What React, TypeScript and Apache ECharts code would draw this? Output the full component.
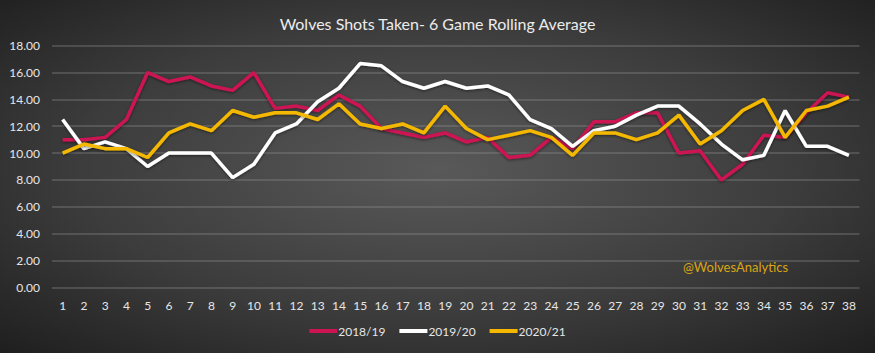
import React, { useEffect, useRef } from "react";
import * as echarts from "echarts";

const matchdays = Array.from({ length: 38 }, (_, i) => String(i + 1));
const yTicks = [0, 2, 4, 6, 8, 10, 12, 14, 16, 18];
const season1819 = [11.0, 11.0, 11.17, 12.5, 16.0, 15.33, 15.67, 15.0, 14.67, 16.0, 13.33, 13.5, 13.17, 14.33, 13.5, 11.83, 11.5, 11.17, 11.5, 10.83, 11.17, 9.67, 9.83, 11.17, 10.33, 12.33, 12.33, 13.0, 13.0, 10.0, 10.17, 8.0, 9.17, 11.33, 11.17, 13.0, 14.5, 14.17];
const season1920 = [12.5, 10.33, 10.83, 10.33, 9.0, 10.0, 10.0, 10.0, 8.17, 9.17, 11.5, 12.17, 13.83, 14.83, 16.67, 16.5, 15.33, 14.83, 15.33, 14.83, 15.0, 14.33, 12.5, 11.83, 10.5, 11.67, 12.0, 12.83, 13.5, 13.5, 12.17, 10.67, 9.5, 9.83, 13.17, 10.5, 10.5, 9.83];
const season2021 = [10.0, 10.67, 10.33, 10.33, 9.67, 11.5, 12.17, 11.67, 13.17, 12.67, 13.0, 13.0, 12.5, 13.67, 12.17, 11.83, 12.17, 11.5, 13.5, 11.83, 11.0, 11.33, 11.67, 11.17, 9.83, 11.5, 11.5, 11.0, 11.5, 12.83, 10.67, 11.67, 13.17, 14.0, 11.17, 13.17, 13.5, 14.17];
const seriesNames = ["2018/19", "2019/20", "2020/21"];
const seriesColors = ["#cc1452", "#ffffff", "#f5b800"];

export default function App() {
  const ref = useRef<HTMLDivElement>(null);
  useEffect(() => {
    document.body.style.margin = "0";
    const chart = echarts.init(ref.current!, null, { renderer: "svg" });
    const font = "Lato, 'Open Sans', sans-serif";
    const datasets = [season1819, season1920, season2021];
    chart.setOption({
      animation: false,
      backgroundColor: {
        type: "radial",
        x: 0.5,
        y: 0.48,
        r: 0.75,
        colorStops: [
          { offset: 0, color: "#595959" },
          { offset: 0.55, color: "#3c3c3c" },
          { offset: 1, color: "#1c1c1c" },
        ],
      },
      title: {
        text: "Wolves Shots Taken- 6 Game Rolling Average",
        left: "center",
        top: 10,
        textStyle: { color: "#ececec", fontSize: 16, fontWeight: "normal", fontFamily: font },
      },
      grid: { left: 52, right: 15.5, top: 45.7, bottom: 65.7, containLabel: false },
      legend: {
        bottom: 11,
        left: "center",
        data: seriesNames,
        icon: "rect",
        itemWidth: 28,
        itemHeight: 4,
        itemGap: 14,
        textStyle: { color: "#e6e6e6", fontSize: 12, fontFamily: font, padding: [0, 0, 0, -4] },
      },
      xAxis: {
        type: "category",
        data: matchdays,
        boundaryGap: true,
        axisLine: { show: false },
        axisTick: { show: false },
        axisLabel: { color: "#e6e6e6", fontSize: 12, fontFamily: font, margin: 12, interval: 0 },
      },
      yAxis: {
        type: "value",
        min: yTicks[0],
        max: yTicks[yTicks.length - 1],
        interval: 2,
        axisLine: { show: false },
        axisTick: { show: false },
        axisLabel: {
          color: "#e6e6e6",
          fontSize: 12,
          fontFamily: font,
          margin: 12,
          formatter: (v: number) => v.toFixed(2),
        },
        splitLine: { lineStyle: { color: "rgba(150,150,150,0.4)", width: 1.5 } },
      },
      graphic: [
        {
          type: "text",
          left: 683,
          top: 260,
          style: { text: "@WolvesAnalytics", fill: "#d9a514", fontSize: 13, fontFamily: font },
        },
      ],
      series: datasets.map((d, i) => ({
        name: seriesNames[i],
        type: "line",
        data: d,
        symbol: "none",
        lineStyle: {
          color: seriesColors[i],
          width: 3.5,
          shadowColor: "rgba(0,0,0,0.5)",
          shadowBlur: 3,
          shadowOffsetY: 1,
        },
        itemStyle: { color: seriesColors[i] },
      })),
    });
    return () => chart.dispose();
  }, []);
  return <div ref={ref} style={{ width: 875, height: 353 }} />;
}
